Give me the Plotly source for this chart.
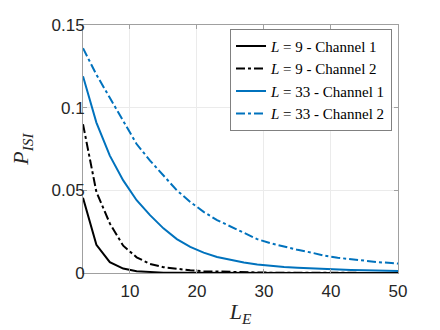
import plotly.graph_objects as go

# длина эквалайзера L_E (нечётные значения)
le = list(range(3, 52, 2))

# вероятность ISI для каждого случая
p_l9_ch1 = [0.0455, 0.0170, 0.0066, 0.0027, 0.0011, 0.0005, 0.0002, 0.0001, 0.00005,
            0.00003, 0.00002, 0.00001, 0.00001, 0, 0, 0, 0, 0, 0, 0, 0, 0, 0, 0, 0]
p_l9_ch2 = [0.090, 0.049, 0.030, 0.0165, 0.0095, 0.0055, 0.0035, 0.0024, 0.0016,
            0.0011, 0.0008, 0.0006, 0.0004, 0.0003, 0.0002, 0.00015, 0.0001, 0.00008,
            0.00006, 0.00004, 0.00003, 0.00002, 0.00002, 0.00001, 0.00001]
p_l33_ch1 = [0.119, 0.091, 0.071, 0.056, 0.044, 0.035, 0.027, 0.0205, 0.0158, 0.0123,
             0.0097, 0.0078, 0.0063, 0.0052, 0.0043, 0.0036, 0.0031, 0.0027, 0.0023,
             0.0020, 0.0018, 0.0016, 0.0014, 0.0012, 0.0011]
p_l33_ch2 = [0.136, 0.120, 0.106, 0.092, 0.078, 0.068, 0.059, 0.050, 0.043, 0.037,
             0.032, 0.028, 0.024, 0.0205, 0.018, 0.0158, 0.0140, 0.0124, 0.0105,
             0.0092, 0.0082, 0.0073, 0.0066, 0.0060, 0.0054]

names = ["<i>L</i> = 9 - Channel 1", "<i>L</i> = 9 - Channel 2",
         "<i>L</i> = 33 - Channel 1", "<i>L</i> = 33 - Channel 2"]

x_ticks = [10, 20, 30, 40, 50]
y_ticks = [0, 0.05, 0.1, 0.15]
y_tick_text = ["0", "0.05", "0.1", "0.15"]

black = "#000000"
blue = "#0072BD"
series = [(p_l9_ch1, black, "solid"), (p_l9_ch2, black, "dashdot"),
          (p_l33_ch1, blue, "solid"), (p_l33_ch2, blue, "dashdot")]

fig = go.Figure()
for (vals, col, dash), nm in zip(series, names):
    fig.add_trace(go.Scatter(x=le, y=vals, mode="lines", name=nm,
                             line=dict(color=col, width=2, dash=dash)))

axis_common = dict(showgrid=True, gridcolor="#ebebeb", gridwidth=1, automargin=False,
                   showline=True, linecolor="#a0a0a0", linewidth=1, mirror="ticks",
                   ticks="inside", ticklen=4, tickcolor="#a0a0a0", zeroline=False,
                   tickfont=dict(family="Liberation Sans, Arial", size=17, color="#262626"))

fig.update_xaxes(range=[3, 50], tickvals=x_ticks, ticklabelstandoff=3,
                 title=dict(text="<i>L</i><sub><i>E</i></sub>", standoff=3,
                            font=dict(family="Liberation Serif", size=22, color="#262626")),
                 **axis_common)
fig.update_yaxes(range=[0, 0.15], tickvals=y_ticks, ticktext=y_tick_text, ticklabelstandoff=-6,
                 title=dict(text="<i>P</i><sub><i>ISI</i></sub>", standoff=20,
                            font=dict(family="Liberation Serif", size=22, color="#262626")),
                 **axis_common)

# страница имеет отступ 8px, поэтому фигура чуть меньше окна
fig.update_layout(
    width=432, height=322,
    margin=dict(l=75, r=42, t=17, b=57),
    paper_bgcolor="white", plot_bgcolor="white",
    legend=dict(x=0.981, y=0.985, xanchor="right", yanchor="top",
                bgcolor="white", bordercolor="#808080", borderwidth=1,
                font=dict(family="Liberation Serif", size=15, color="#000000"),
                tracegroupgap=0, itemwidth=30),
)

fig.write_html("out.html")
